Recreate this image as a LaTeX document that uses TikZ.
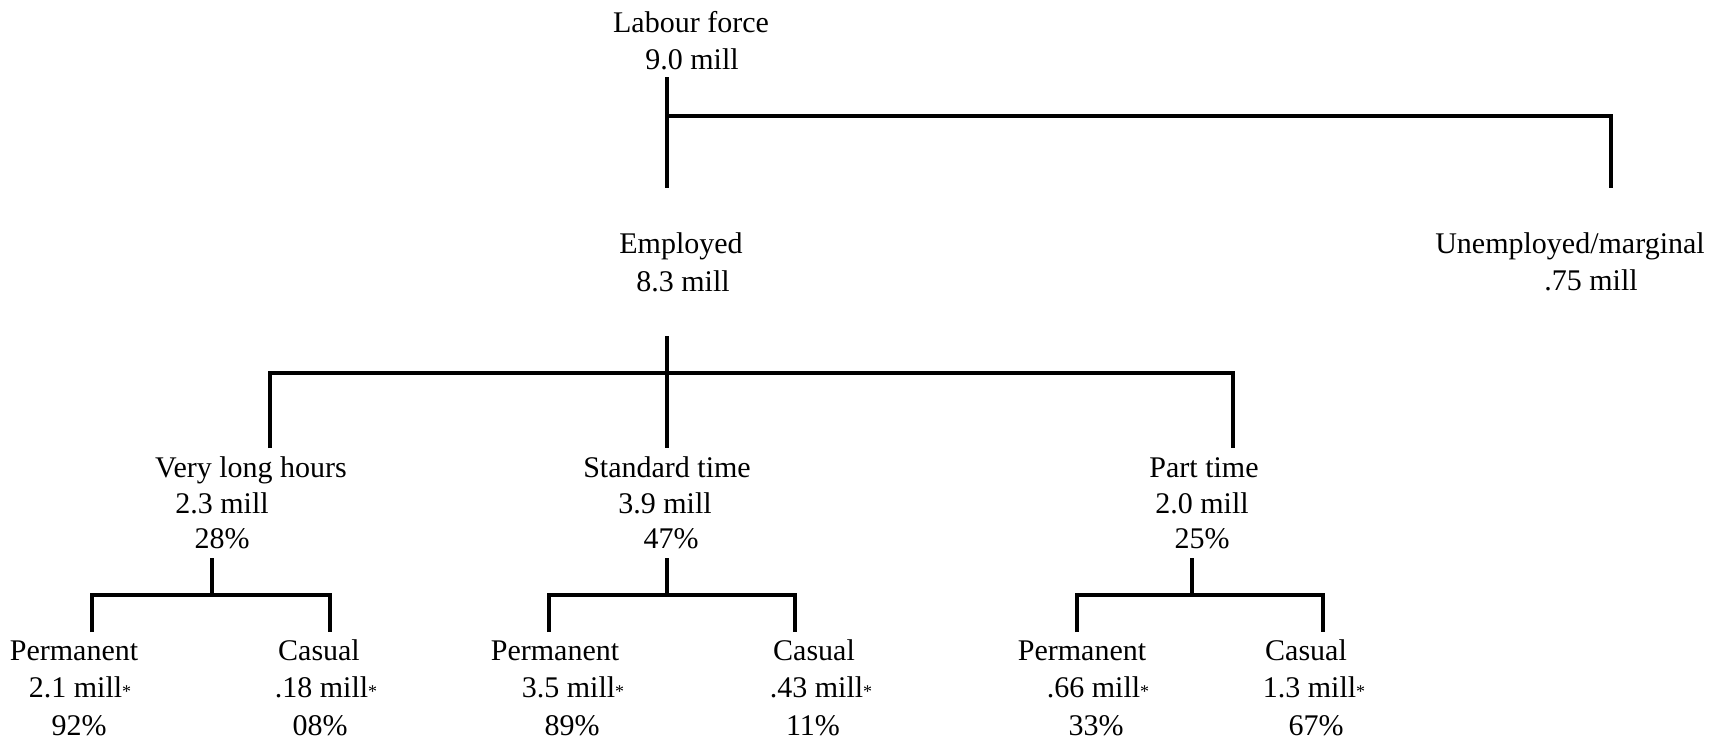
\documentclass[tikz,border=0pt]{standalone}
\usepackage{fontspec}
\setmainfont{Liberation Serif}
\newfontfamily\tnrfont{Liberation Serif}
\newcommand{\mystar}{{\fontsize{18}{18}\selectfont *}}
\begin{document}
\begin{tikzpicture}[x=1pt,y=-1pt,
  lbl/.style={anchor=base,inner sep=0pt,font=\tnrfont\fontsize{30}{36}\selectfont},
  conn/.style={line width=3.3pt,line join=miter}]
\useasboundingbox (0,0) rectangle (1715,739);
% Level 0
\node[lbl] (lf1) at (691,32) {Labour force};
\node[lbl] (lf2) at (692,69) {9.0 mill};
% Level 1
\node[lbl] (em1) at (681,253) {Employed};
\node[lbl] (em2) at (683,291) {8.3 mill};
\node[lbl] (un1) at (1570,253) {Unemployed/marginal};
\node[lbl] (un2) at (1591,290) {.75 mill};
% Level 2
\node[lbl] (vl1) at (251,477) {Very long hours};
\node[lbl] (vl2) at (222,513) {2.3 mill};
\node[lbl] (vl3) at (222,548) {28\%};
\node[lbl] (st1) at (667,477) {Standard time};
\node[lbl] (st2) at (665,513) {3.9 mill};
\node[lbl] (st3) at (671,548) {47\%};
\node[lbl] (pt1) at (1204,477) {Part time};
\node[lbl] (pt2) at (1202,513) {2.0 mill};
\node[lbl] (pt3) at (1202,548) {25\%};
% Level 3
\node[lbl] (p11) at (74,660) {Permanent};
\node[lbl] (p12) at (80,697) {2.1 mill\mystar};
\node[lbl] (p13) at (79,735) {92\%};
\node[lbl] (c11) at (319,660) {Casual};
\node[lbl] (c12) at (326,697) {.18 mill\mystar};
\node[lbl] (c13) at (320,735) {08\%};
\node[lbl] (p21) at (555,660) {Permanent};
\node[lbl] (p22) at (573,697) {3.5 mill\mystar};
\node[lbl] (p23) at (572,735) {89\%};
\node[lbl] (c21) at (814,660) {Casual};
\node[lbl] (c22) at (821,697) {.43 mill\mystar};
\node[lbl] (c23) at (813,735) {11\%};
\node[lbl] (p31) at (1082,660) {Permanent};
\node[lbl] (p32) at (1098,697) {.66 mill\mystar};
\node[lbl] (p33) at (1096,735) {33\%};
\node[lbl] (c31) at (1306,660) {Casual};
\node[lbl] (c32) at (1314,697) {1.3 mill\mystar};
\node[lbl] (c33) at (1316,735) {67\%};
% Connector coordinates
\coordinate (a0) at (667,77);
\coordinate (a1) at (667,188);
\coordinate (aj) at (667,116);
\coordinate (ar) at (1611,116);
\coordinate (arb) at (1611,188);
\coordinate (b0) at (667,336);
\coordinate (b1) at (667,448);
\coordinate (bl) at (270,373);
\coordinate (blb) at (270,448);
\coordinate (br) at (1233,373);
\coordinate (brb) at (1233,448);
\coordinate (g1t) at (212,558);
\coordinate (g1j) at (212,595);
\coordinate (g1l) at (92,595);
\coordinate (g1lb) at (92,632);
\coordinate (g1r) at (330,595);
\coordinate (g1rb) at (330,632);
\coordinate (g2t) at (667,558);
\coordinate (g2j) at (667,595);
\coordinate (g2l) at (549,595);
\coordinate (g2lb) at (549,632);
\coordinate (g2r) at (795,595);
\coordinate (g2rb) at (795,632);
\coordinate (g3t) at (1192,558);
\coordinate (g3j) at (1192,595);
\coordinate (g3l) at (1077,595);
\coordinate (g3lb) at (1077,632);
\coordinate (g3r) at (1323,595);
\coordinate (g3rb) at (1323,632);
% Connectors
\draw[conn] (a0) -- (a1);
\draw[conn] (aj) -- (ar) -- (arb);
\draw[conn] (b0) -- (b1);
\draw[conn] (blb) -- (bl) -- (br) -- (brb);
\draw[conn] (g1t) -- (g1j);
\draw[conn] (g1lb) -- (g1l) -- (g1r) -- (g1rb);
\draw[conn] (g2t) -- (g2j);
\draw[conn] (g2lb) -- (g2l) -- (g2r) -- (g2rb);
\draw[conn] (g3t) -- (g3j);
\draw[conn] (g3lb) -- (g3l) -- (g3r) -- (g3rb);
\end{tikzpicture}
\end{document}
